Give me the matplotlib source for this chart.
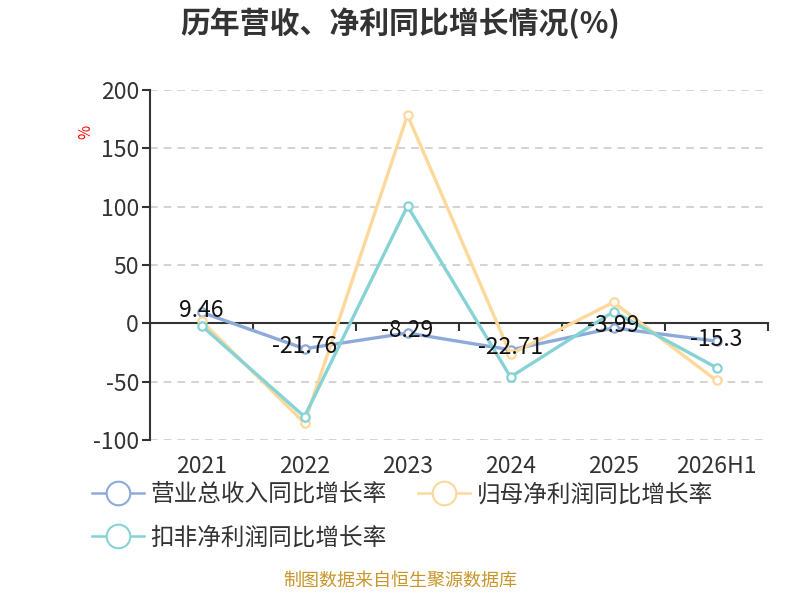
import numpy as np
import matplotlib.pyplot as plt
from matplotlib.lines import Line2D

plt.rcParams['font.family'] = ['Noto Sans CJK SC', 'DejaVu Sans']
plt.rcParams['axes.unicode_minus'] = False

years = ['2021', '2022', '2023', '2024', '2025', '2026H1']
revenue = [9.46, -21.76, -8.29, -22.71, -3.99, -15.3]          # 营业总收入同比增长率
net_profit = [2.0, -85.5, 178.5, -26.5, 18.0, -49.0]            # 归母净利润同比增长率
deducted = [-2.0, -80.0, 100.5, -46.0, 10.0, -38.0]             # 扣非净利润同比增长率
names = ['营业总收入同比增长率', '归母净利润同比增长率', '扣非净利润同比增长率']
colors = ['#8eaadb', '#fdd89b', '#86d3d6']

fig = plt.figure(figsize=(8, 6), dpi=100)
ax = fig.add_axes([0.1875, 0.2667, 0.7725, 0.5833])

x = np.arange(len(years))
series = [revenue, net_profit, deducted]
for vals, c in zip(series, colors):
    ax.plot(x, vals, color=c, lw=2.4, marker='o', ms=6, mfc='white',
            mec=c, mew=1.6, zorder=3)

for xi, v in zip(x, revenue):
    ax.annotate('%g' % v, (xi, v), xytext=(0, 1.5), textcoords='offset points',
                ha='center', va='center', fontsize=16.5, color='#111111', zorder=5)

ax.set_xlim(-0.5, len(years) - 0.5)
ax.set_ylim(-100, 200)
ax.set_yticks([-100, -50, 0, 50, 100, 150, 200])
for yv in [-100, -50, 50, 100, 150, 200]:
    ax.axhline(yv, color='#c8c8c8', lw=1.1, ls=(0, (5, 4)), zorder=1)

# x axis on zero line with ticks between categories
ax.spines['bottom'].set_position(('data', 0))
ax.spines['bottom'].set_color('#333333')
ax.spines['bottom'].set_linewidth(1.5)
ax.spines['left'].set_color('#333333')
ax.spines['left'].set_linewidth(1.5)
ax.spines['top'].set_visible(False)
ax.spines['right'].set_visible(False)

ax.set_xticks(np.arange(len(years) + 1) - 0.5)
ax.set_xticklabels([])
ax.tick_params(axis='x', direction='out', length=6, width=1.5, color='#333333')
for xi, lab in zip(x, years):
    ax.text(xi, -0.075, lab, transform=ax.get_xaxis_transform(), ha='center',
            va='center', fontsize=16.5, color='#333333')

ax.tick_params(axis='y', direction='out', length=6, width=1.5, color='#333333',
               labelsize=16.5, labelcolor='#333333', pad=2)

fig.text(0.107, 0.78, '%', color='red', fontsize=11, rotation=90,
         ha='center', va='center')

fig.text(0.5, 0.962, '历年营收、净利同比增长情况(%)', ha='center', va='center',
         fontsize=21.5, fontweight='bold', color='#333333')

handles = [Line2D([], [], color=c, lw=1.8, marker='o', ms=17, mfc='white',
                  mec=c, mew=1.5) for c in colors]
order = [0, 2, 1]
fig.legend([handles[i] for i in order], [names[i] for i in order],
           loc='upper left', bbox_to_anchor=(0.088, 0.23), ncol=2, frameon=False,
           fontsize=17, handlelength=2.2, handletextpad=0.3, columnspacing=1.3,
           labelspacing=0.85, labelcolor='#333333')

fig.text(0.5, 0.017, '制图数据来自恒生聚源数据库', ha='center', va='bottom',
         fontsize=13, color='#c8962a')

fig.savefig('out.png')
